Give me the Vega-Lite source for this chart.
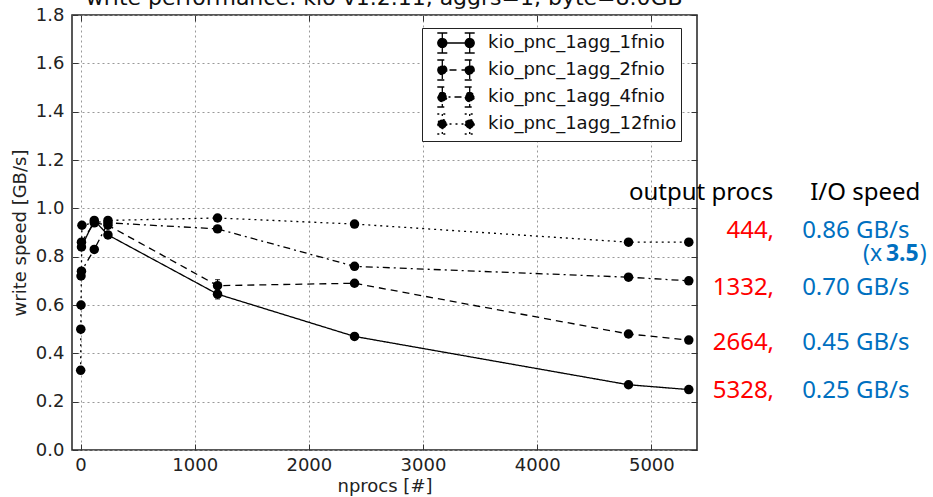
{
  "$schema": "https://vega.github.io/schema/vega-lite/v6.json",
  "width": 625,
  "height": 435,
  "autosize": {"type": "none"},
  "padding": {"left": 72, "top": 15, "right": 236, "bottom": 47},
  "background": "white",
  "config": {
    "view": {"stroke": "#222", "strokeWidth": 1.5},
    "axis": {"labelFont": "DejaVu Sans", "labelFontSize": 18, "labelColor": "#222", "titleFont": "DejaVu Sans", "titleFontSize": 18, "titleFontWeight": "normal", "titleColor": "#222", "domain": false, "tickColor": "#333", "tickSize": -6, "grid": true, "gridColor": "#999", "gridDash": [2, 3], "gridWidth": 1}
  },
  "resolve": {"axis": {"x": "independent", "y": "independent"}},
  "datasets": {
    "perf": [
      {"series": "kio_pnc_1agg_1fnio", "nprocs": 8, "speed": 0.84, "err": 0.01},
      {"series": "kio_pnc_1agg_1fnio", "nprocs": 120, "speed": 0.95, "err": 0.01},
      {"series": "kio_pnc_1agg_1fnio", "nprocs": 240, "speed": 0.89, "err": 0.01},
      {"series": "kio_pnc_1agg_1fnio", "nprocs": 1200, "speed": 0.645, "err": 0.02},
      {"series": "kio_pnc_1agg_1fnio", "nprocs": 2400, "speed": 0.47, "err": 0.008},
      {"series": "kio_pnc_1agg_1fnio", "nprocs": 4800, "speed": 0.27, "err": 0.008},
      {"series": "kio_pnc_1agg_1fnio", "nprocs": 5328, "speed": 0.25, "err": 0.006},
      {"series": "kio_pnc_1agg_2fnio", "nprocs": 8, "speed": 0.86, "err": 0.01},
      {"series": "kio_pnc_1agg_2fnio", "nprocs": 120, "speed": 0.94, "err": 0.01},
      {"series": "kio_pnc_1agg_2fnio", "nprocs": 240, "speed": 0.93, "err": 0.01},
      {"series": "kio_pnc_1agg_2fnio", "nprocs": 1200, "speed": 0.68, "err": 0.025},
      {"series": "kio_pnc_1agg_2fnio", "nprocs": 2400, "speed": 0.69, "err": 0.01},
      {"series": "kio_pnc_1agg_2fnio", "nprocs": 4800, "speed": 0.48, "err": 0.01},
      {"series": "kio_pnc_1agg_2fnio", "nprocs": 5328, "speed": 0.455, "err": 0.008},
      {"series": "kio_pnc_1agg_4fnio", "nprocs": 4, "speed": 0.72, "err": 0.01},
      {"series": "kio_pnc_1agg_4fnio", "nprocs": 8, "speed": 0.74, "err": 0.01},
      {"series": "kio_pnc_1agg_4fnio", "nprocs": 120, "speed": 0.83, "err": 0.01},
      {"series": "kio_pnc_1agg_4fnio", "nprocs": 240, "speed": 0.94, "err": 0.01},
      {"series": "kio_pnc_1agg_4fnio", "nprocs": 1200, "speed": 0.915, "err": 0.01},
      {"series": "kio_pnc_1agg_4fnio", "nprocs": 2400, "speed": 0.76, "err": 0.01},
      {"series": "kio_pnc_1agg_4fnio", "nprocs": 4800, "speed": 0.715, "err": 0.01},
      {"series": "kio_pnc_1agg_4fnio", "nprocs": 5328, "speed": 0.70, "err": 0.008},
      {"series": "kio_pnc_1agg_12fnio", "nprocs": 1, "speed": 0.33, "err": 0.015},
      {"series": "kio_pnc_1agg_12fnio", "nprocs": 2, "speed": 0.50, "err": 0.01},
      {"series": "kio_pnc_1agg_12fnio", "nprocs": 4, "speed": 0.60, "err": 0.01},
      {"series": "kio_pnc_1agg_12fnio", "nprocs": 12, "speed": 0.93, "err": 0.01},
      {"series": "kio_pnc_1agg_12fnio", "nprocs": 240, "speed": 0.95, "err": 0.01},
      {"series": "kio_pnc_1agg_12fnio", "nprocs": 1200, "speed": 0.96, "err": 0.01},
      {"series": "kio_pnc_1agg_12fnio", "nprocs": 2400, "speed": 0.935, "err": 0.01},
      {"series": "kio_pnc_1agg_12fnio", "nprocs": 4800, "speed": 0.86, "err": 0.01},
      {"series": "kio_pnc_1agg_12fnio", "nprocs": 5328, "speed": 0.86, "err": 0.01}
    ]
  },
  "layer": [
    {
      "data": {"name": "perf"},
      "mark": {"type": "errorbar", "ticks": true, "color": "black", "thickness": 1.2},
      "encoding": {
        "x": {"field": "nprocs", "type": "quantitative", "title": "nprocs [#]", "scale": {"domain": [-75, 5400], "nice": false, "zero": false}, "axis": {"orient": "bottom", "values": [0, 1000, 2000, 3000, 4000, 5000], "format": "d", "labelPadding": 12, "titlePadding": 3}},
        "y": {"field": "speed", "type": "quantitative", "title": "write speed [GB/s]", "scale": {"domain": [0, 1.8], "nice": false}, "axis": {"orient": "left", "values": [0, 0.2, 0.4, 0.6, 0.8, 1.0, 1.2, 1.4, 1.6, 1.8], "format": ".1f", "labelPadding": 14, "titlePadding": 6}},
        "yError": {"field": "err"}
      }
    },
    {
      "data": {"name": "perf"},
      "mark": {"type": "line", "color": "black", "strokeWidth": 1.3},
      "encoding": {
        "x": {"field": "nprocs", "type": "quantitative", "axis": null},
        "y": {"field": "speed", "type": "quantitative", "axis": null},
        "strokeDash": {
          "field": "series", "type": "nominal",
          "scale": {"domain": ["kio_pnc_1agg_1fnio", "kio_pnc_1agg_2fnio", "kio_pnc_1agg_4fnio", "kio_pnc_1agg_12fnio"], "range": [[1, 0], [7, 5], [7, 4, 2, 4], [2, 4]]},
          "legend": {"orient": "none", "legendX": 350, "legendY": 13, "title": null,
            "symbolType": "M-1.85,0L1.85,0M-1.37,-1L-1.37,1M-1.87,-1L-0.87,-1M-1.87,1L-0.87,1M1.37,-1L1.37,1M0.87,-1L1.87,-1M0.87,1L1.87,1M-1.82,0A0.45,0.45,0,1,0,-0.92,0A0.45,0.45,0,1,0,-1.82,0ZM0.92,0A0.45,0.45,0,1,0,1.82,0A0.45,0.45,0,1,0,0.92,0Z",
            "symbolSize": 400, "symbolOffset": 19, "symbolStrokeColor": "black", "symbolFillColor": "black", "symbolStrokeWidth": 1.3,
            "labelFont": "DejaVu Sans", "labelFontSize": 18, "labelColor": "#111", "labelOffset": 21, "labelLimit": 400,
            "fillColor": "white", "strokeColor": "#222", "padding": 4, "rowPadding": 1}
        }
      }
    },
    {
      "data": {"name": "perf"},
      "mark": {"type": "circle", "size": 90, "color": "black", "opacity": 1},
      "encoding": {
        "x": {"field": "nprocs", "type": "quantitative", "axis": {"orient": "top", "values": [0, 1000, 2000, 3000, 4000, 5000], "labels": false, "title": null, "grid": false}},
        "y": {"field": "speed", "type": "quantitative", "axis": {"orient": "right", "values": [0, 0.2, 0.4, 0.6, 0.8, 1.0, 1.2, 1.4, 1.6, 1.8], "labels": false, "title": null, "grid": false}}
      }
    },
    {
      "data": {"values": [{"t": "write performance: kio v1.2.11, aggrs=1, byte=8.0GB"}]},
      "mark": {"type": "text", "align": "center", "baseline": "alphabetic", "font": "DejaVu Sans", "fontSize": 22, "color": "#111"},
      "encoding": {"x": {"datum": 2660, "type": "quantitative", "axis": null}, "y": {"datum": 1.841, "type": "quantitative", "axis": null}, "text": {"field": "t"}}
    },
    {
      "data": {"values": [{"t": "output procs"}]},
      "mark": {"type": "text", "align": "right", "baseline": "alphabetic", "font": "Noto Sans", "fontSize": 24, "color": "black"},
      "encoding": {"x": {"datum": 6067, "type": "quantitative", "axis": null}, "y": {"datum": 1.0345, "type": "quantitative", "axis": null}, "text": {"field": "t"}}
    },
    {
      "data": {"values": [{"t": "I/O speed"}]},
      "mark": {"type": "text", "align": "left", "baseline": "alphabetic", "font": "Noto Sans", "fontSize": 24, "color": "black"},
      "encoding": {"x": {"datum": 6391, "type": "quantitative", "axis": null}, "y": {"datum": 1.0345, "type": "quantitative", "axis": null}, "text": {"field": "t"}}
    },
    {
      "data": {"values": [{"t": "444,", "y": 0.877}, {"t": "1332,", "y": 0.641}, {"t": "2664,", "y": 0.414}, {"t": "5328,", "y": 0.215}]},
      "mark": {"type": "text", "align": "right", "baseline": "alphabetic", "font": "Noto Sans", "fontSize": 24, "color": "#FF0000"},
      "encoding": {"x": {"datum": 6075, "type": "quantitative", "axis": null}, "y": {"field": "y", "type": "quantitative", "axis": null}, "text": {"field": "t"}}
    },
    {
      "data": {"values": [{"t": "0.86 GB/s", "y": 0.877}, {"t": "0.70 GB/s", "y": 0.641}, {"t": "0.45 GB/s", "y": 0.414}, {"t": "0.25 GB/s", "y": 0.215}]},
      "mark": {"type": "text", "align": "left", "baseline": "alphabetic", "font": "Noto Sans", "fontSize": 24, "color": "#0070C0"},
      "encoding": {"x": {"datum": 6321, "type": "quantitative", "axis": null}, "y": {"field": "y", "type": "quantitative", "axis": null}, "text": {"field": "t"}}
    },
    {
      "data": {"values": [{"t": "(x"}]},
      "mark": {"type": "text", "align": "right", "baseline": "alphabetic", "font": "Noto Sans", "fontSize": 23, "color": "#0070C0"},
      "encoding": {"x": {"datum": 7022, "type": "quantitative", "axis": null}, "y": {"datum": 0.782, "type": "quantitative", "axis": null}, "text": {"field": "t"}}
    },
    {
      "data": {"values": [{"t": "3.5"}]},
      "mark": {"type": "text", "align": "right", "baseline": "alphabetic", "font": "Noto Sans", "fontSize": 23, "fontWeight": "bold", "color": "#0070C0"},
      "encoding": {"x": {"datum": 7342, "type": "quantitative", "axis": null}, "y": {"datum": 0.782, "type": "quantitative", "axis": null}, "text": {"field": "t"}}
    },
    {
      "data": {"values": [{"t": ")"}]},
      "mark": {"type": "text", "align": "left", "baseline": "alphabetic", "font": "Noto Sans", "fontSize": 23, "color": "#0070C0"},
      "encoding": {"x": {"datum": 7352, "type": "quantitative", "axis": null}, "y": {"datum": 0.782, "type": "quantitative", "axis": null}, "text": {"field": "t"}}
    }
  ]
}
